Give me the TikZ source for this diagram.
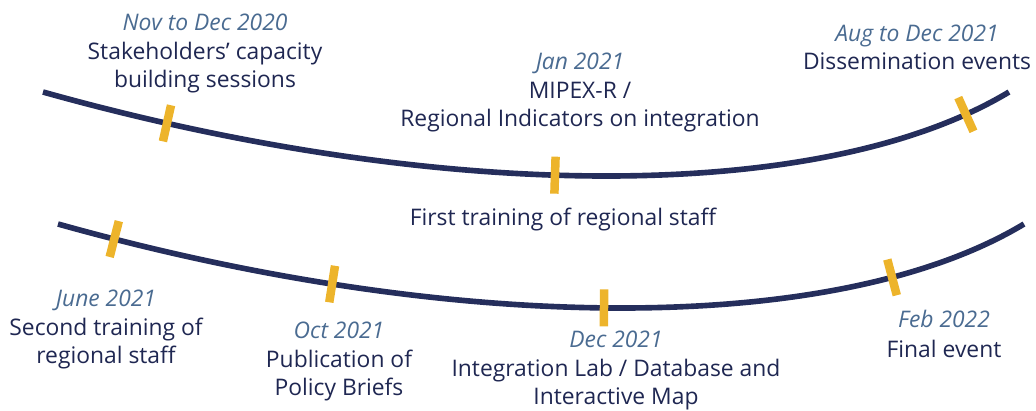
\documentclass[tikz,border=0pt]{standalone}
\usepackage{fontspec}
\setmainfont{Open Sans}

\definecolor{navy}{HTML}{252E5C}
\definecolor{ink}{HTML}{1F2752}
\definecolor{slate}{HTML}{4A6B91}
\definecolor{gold}{HTML}{EDB42B}

\begin{document}
\begin{tikzpicture}[x = 0.02cm, y = -0.02cm,
	line/.style = {navy, line width = 3.2pt},
	tick/.style = {sloped, fill = gold, inner sep = 0, minimum width = 0.17cm, minimum height = 0.74cm},
	event/.style = {anchor = base, align = center, text = ink, inner sep = 0, font = \fontsize{13}{15.4}\selectfont}
]
	%	page
	\useasboundingbox (0, 0) rectangle (1036, 410);
	
	%	first line
	\draw[line] (43, 92) .. controls (443, 204) and (823, 204) .. (1009, 92)
		node[tick, pos = 0.104] (t1) {}
		node[tick, pos = 0.45] (t2) {}
		node[tick, pos = 0.928] (t3) {};
	
	%	second line
	\draw[line] (58, 224) .. controls (458, 336) and (838, 336) .. (1024, 224)
		node[tick, pos = 0.047] (t4) {}
		node[tick, pos = 0.233] (t5) {}
		node[tick, pos = 0.483] (t6) {}
		node[tick, pos = 0.802] (t7) {};
	
	%	events (base = last line)
	\node[event] (nov) at (205, 87) {{\color{slate}\itshape Nov to Dec 2020}\\[1.5pt]Stakeholders’ capacity\\building sessions};
	\node[event] (jan) at (580, 126) {{\color{slate}\itshape Jan 2021}\\[1.5pt]MIPEX-R /\\Regional Indicators on integration};
	\node[event] (aug) at (917, 69) {{\color{slate}\itshape Aug to Dec 2021}\\Dissemination events};
	\node[event] (first) at (563, 225) {First training of regional staff};
	\node[event] (june) at (106, 363) {{\color{slate}\itshape June 2021}\\[1.5pt]Second training of\\regional staff};
	\node[event] (oct) at (339, 395) {{\color{slate}\itshape Oct 2021}\\[1.5pt]Publication of\\Policy Briefs};
	\node[event] (dec) at (616, 404) {{\color{slate}\itshape Dec 2021}\\[1.5pt]Integration Lab / Database and\\Interactive Map};
	\node[event] (feb) at (944, 357) {{\color{slate}\itshape Feb 2022}\\[1.5pt]Final event};
\end{tikzpicture}
\end{document}
